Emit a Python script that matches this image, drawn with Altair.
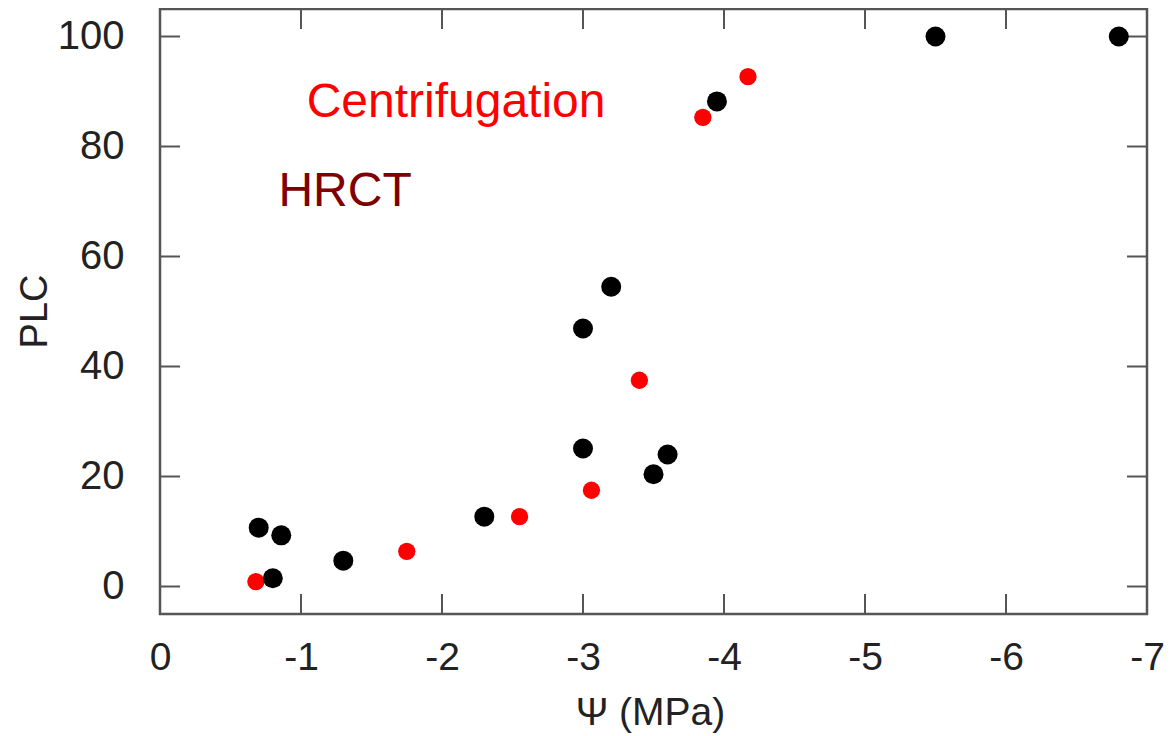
import altair as alt
import pandas as pd

# HRCT (black)
hrct_psi = [-0.70, -0.86, -0.80, -1.30, -2.30, -3.00, -3.00, -3.20, -3.50, -3.60, -3.95, -5.50, -6.80]
hrct_plc = [10.7, 9.3, 1.5, 4.7, 12.7, 25.1, 46.9, 54.5, 20.4, 24.0, 88.2, 100.0, 100.0]
# Centrifugation (red)
cent_psi = [-0.68, -1.75, -2.55, -3.06, -3.40, -3.85, -4.17]
cent_plc = [0.9, 6.4, 12.7, 17.5, 37.5, 85.3, 92.7]

x_ticks = [0, -1, -2, -3, -4, -5, -6, -7]
y_ticks = [0, 20, 40, 60, 80, 100]

labels = ["Centrifugation", "HRCT"]
label_psi = [-1.04, -0.84]
label_plc = [85.3, 69.1]
label_colors = ["#ff0000", "#800000"]

W, H = 987, 605
TL = 20

hrct = pd.DataFrame({"psi": hrct_psi, "plc": hrct_plc})
cent = pd.DataFrame({"psi": cent_psi, "plc": cent_plc})
xt = pd.DataFrame({"t": x_ticks})
yt = pd.DataFrame({"t": y_ticks})
lab = pd.DataFrame({"label": labels, "psi": label_psi, "plc": label_plc, "c": label_colors})

xscale = alt.Scale(domain=[0, -7], nice=False, zero=False)
yscale = alt.Scale(domain=[-5, 105], nice=False, zero=False)

xaxis = alt.Axis(values=x_ticks, title="Ψ (MPa)", tickSize=0, domain=False, grid=False,
                 labelExpr="datum.value == 0 ? '0' : '-' + abs(datum.value)",
                 labelFontSize=39, labelFont="Liberation Sans", labelColor="#222222",
                 labelPadding=24, titleFontSize=39, titleFont="Liberation Sans",
                 titleFontWeight="normal", titleColor="#222222",
                 titleX=490, titleY=98, titleAlign="center", titleBaseline="middle",
                 labelFlush=False, labelOverlap=False)
yaxis = alt.Axis(values=y_ticks, title="PLC", tickSize=0, domain=False, grid=False,
                 labelFontSize=40, labelFont="Liberation Sans", labelColor="#222222",
                 labelPadding=36, titleFontSize=38, titleFont="Liberation Sans",
                 titleFontWeight="normal", titleColor="#222222",
                 titleX=-125, titleY=302, titleAlign="center", titleBaseline="middle",
                 titleAngle=270, labelFlush=False, labelOverlap=False)

red = alt.Chart(cent).mark_circle(size=300, color="#ff0000", opacity=1).encode(
    x=alt.X("psi:Q", scale=xscale, axis=xaxis),
    y=alt.Y("plc:Q", scale=yscale, axis=yaxis),
)
black = alt.Chart(hrct).mark_circle(size=400, color="#000000", opacity=1).encode(
    x=alt.X("psi:Q", scale=xscale),
    y=alt.Y("plc:Q", scale=yscale),
)

tick_color = "#555555"
xb = alt.Chart(xt).mark_rule(color=tick_color, strokeWidth=2).encode(
    x=alt.X("t:Q", scale=xscale), y=alt.value(H), y2=alt.value(H - TL))
xtop = alt.Chart(xt).mark_rule(color=tick_color, strokeWidth=2).encode(
    x=alt.X("t:Q", scale=xscale), y=alt.value(0), y2=alt.value(TL))
yl = alt.Chart(yt).mark_rule(color=tick_color, strokeWidth=2).encode(
    y=alt.Y("t:Q", scale=yscale), x=alt.value(0), x2=alt.value(TL))
yr = alt.Chart(yt).mark_rule(color=tick_color, strokeWidth=2).encode(
    y=alt.Y("t:Q", scale=yscale), x=alt.value(W - TL), x2=alt.value(W))

text = alt.Chart(lab).mark_text(align="left", baseline="alphabetic", fontSize=48,
                                font="Liberation Sans").encode(
    x=alt.X("psi:Q", scale=xscale),
    y=alt.Y("plc:Q", scale=yscale),
    text="label:N",
    color=alt.Color("c:N", scale=None),
)

chart = alt.layer(xb, xtop, yl, yr, red, black, text).properties(
    width=W, height=H,
    autosize=alt.AutoSizeParams(type="none"),
    padding={"left": 152, "top": 1, "right": 18, "bottom": 120},
).configure(background="white").configure_view(stroke="#555555", strokeWidth=2.5)

chart.save("out.html", embed_options={"renderer": "svg", "actions": False})
